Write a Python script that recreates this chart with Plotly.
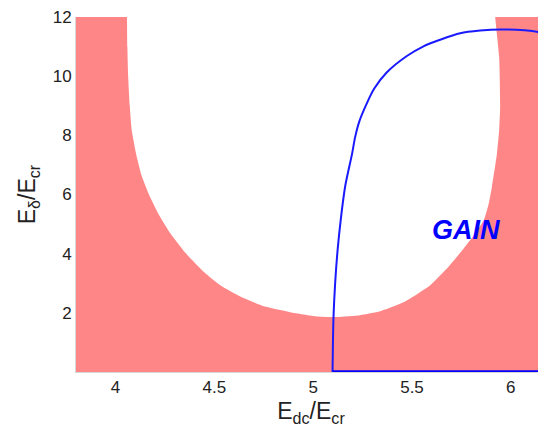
import plotly.graph_objects as go

# Boundary of the white (non-shaded) U-shaped region
left_bx = [4.057, 4.058, 4.060, 4.064, 4.072, 4.082, 4.105, 4.130, 4.168, 4.216, 4.277, 4.353,
           4.449, 4.530, 4.631, 4.757, 4.884, 5.019, 5.12]
left_by = [13.0, 12.0, 10.98, 9.98, 8.99, 8.17, 7.34, 6.68, 6.02, 5.36, 4.69, 4.03,
           3.37, 2.93, 2.55, 2.21, 2.02, 1.88, 1.86]
right_bx = [5.238, 5.339, 5.465, 5.592, 5.673, 5.744, 5.810, 5.863, 5.888, 5.904, 5.929,
            5.941, 5.946, 5.941, 5.921, 5.915]
right_by = [1.92, 2.05, 2.38, 2.93, 3.47, 4.03, 4.60, 5.13, 5.69, 6.24, 7.34,
            8.17, 8.99, 10.64, 12.0, 13.0]

# Blue gain-boundary curve
curve_x = [5.098, 5.100, 5.103, 5.111, 5.123, 5.140, 5.162, 5.197, 5.212, 5.234, 5.268, 5.309,
           5.373, 5.474, 5.558, 5.642, 5.744, 5.845, 5.946, 6.07, 6.20]
curve_y = [0.0, 1.0, 1.88, 2.98, 4.08, 5.18, 6.28, 7.38, 7.93, 8.48, 9.03, 9.58,
           10.13, 10.68, 11.01, 11.23, 11.45, 11.54, 11.58, 11.55, 11.43]

# Blue baseline segment (y = 0)
base_x = [5.098, 6.4]
base_y = [0.0, 0.0]

x_ticks = [4, 4.5, 5, 5.5, 6]
x_ticklabels = ["4", "4.5", "5", "5.5", "6"]
y_ticks = [2, 4, 6, 8, 10, 12]
y_ticklabels = ["2", "4", "6", "8", "10", "12"]

pink = "#ff8686"
blue = "#0000ff"

# shaded polygon: everything outside the U
poly_x = [3.0, 3.0] + left_bx + right_bx + [7.0, 7.0, 3.0]
poly_y = [-1.0, 13.0] + left_by + right_by + [13.0, -1.0, -1.0]

fig = go.Figure()
fig.add_trace(go.Scatter(
    x=poly_x, y=poly_y, mode="lines", fill="toself",
    fillcolor=pink, line=dict(color=pink, width=0, shape="spline", smoothing=0.5),
    hoverinfo="skip", showlegend=False))
fig.add_trace(go.Scatter(
    x=curve_x, y=curve_y, mode="lines",
    line=dict(color="#1a1aff", width=2, shape="spline", smoothing=0.8),
    hoverinfo="skip", showlegend=False))
fig.add_trace(go.Scatter(
    x=base_x, y=base_y, mode="lines",
    line=dict(color=blue, width=3.5),
    hoverinfo="skip", showlegend=False))

font_family = "Liberation Sans, Arial, sans-serif"

fig.add_annotation(
    x=5.774, y=4.8, text="<b><i>GAIN</i></b>", showarrow=False,
    font=dict(family=font_family, size=27, color=blue))

fig.update_layout(
    width=538, height=423,
    margin=dict(l=68, r=0, t=1, b=59),
    paper_bgcolor="white", plot_bgcolor="white",
    font=dict(family=font_family, color="#222222"),
    xaxis=dict(
        range=[3.8, 6.178], tickmode="array", tickvals=x_ticks, ticktext=x_ticklabels,
        showgrid=False, zeroline=False, showline=True, linecolor="#d8d8d8", linewidth=1,
        ticks="", tickfont=dict(size=17, color="#222222"), ticklabeloverflow="allow",
        title=dict(text="E<sub>dc</sub>/E<sub>cr</sub>", font=dict(size=23, color="#222222"), standoff=6),
    ),
    yaxis=dict(
        range=[0, 12], tickmode="array", tickvals=y_ticks, ticktext=y_ticklabels,
        showgrid=False, zeroline=False, showline=True, linecolor="#d8d8d8", linewidth=1,
        ticks="", tickfont=dict(size=17, color="#222222"), ticklabeloverflow="allow",
        title=dict(text="E<sub>δ</sub>/E<sub>cr</sub>", font=dict(size=23, color="#222222"), standoff=10),
    ),
)

fig.write_html("out.html")
